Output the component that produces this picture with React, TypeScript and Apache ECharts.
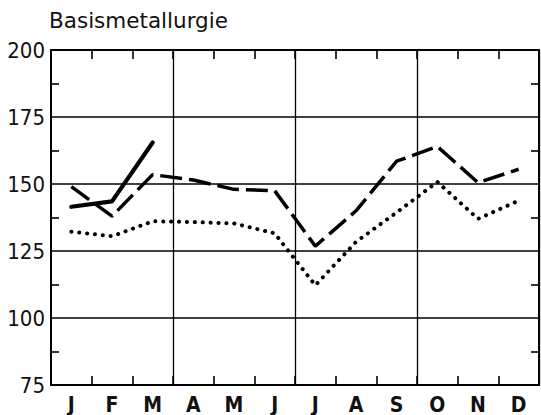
import React, { useEffect, useRef } from "react";
import * as echarts from "echarts";

const months = ["J", "F", "M", "A", "M", "J", "J", "A", "S", "O", "N", "D"];
const yTicks = [75, 100, 125, 150, 175, 200];
const solidSeries: (number | null)[] = [141.5, 143.5, 165.5, null, null, null, null, null, null, null, null, null];
const dashedSeries = [149, 138, 153.5, 151.5, 148, 147.5, 126.8, 140, 158.5, 164, 150.5, 155.5];
const dottedSeries = [132.2, 130.5, 136.1, 135.8, 135.3, 131.6, 112.2, 128.4, 139.4, 150.8, 137, 143.8];
const title = "Basismetallurgie";

export default function App() {
  const ref = useRef<HTMLDivElement>(null);
  useEffect(() => {
    if (!ref.current) return;
    const chart = echarts.init(ref.current, undefined, { renderer: "svg" });
    const axisFont = "'DejaVu Sans Condensed', 'DejaVu Sans', sans-serif";
    const yBase = {
      type: "value" as const,
      min: yTicks[0],
      max: yTicks[yTicks.length - 1],
      interval: 25,
      axisLine: { show: true, lineStyle: { color: "#000", width: 2 } },
      axisTick: { show: false, inside: true, length: 8 },
      minorTick: { show: true, splitNumber: 2, length: 8, lineStyle: { color: "#000", width: 1.6 } },
      minorSplitLine: { show: false },
    };
    chart.setOption({
      animation: false,
      backgroundColor: "#fff",
      title: {
        text: title,
        left: 49,
        top: 9,
        padding: 0,
        textStyle: { fontFamily: "'DejaVu Sans', sans-serif", fontSize: 21.5, fontWeight: "normal", color: "#111" },
      },
      grid: { left: 51, right: 2, top: 50, bottom: 29, containLabel: false },
      xAxis: [
        {
          type: "category",
          data: months,
          boundaryGap: true,
          position: "bottom",
          axisLine: { show: true, lineStyle: { color: "#000", width: 2 } },
          axisTick: { show: true, inside: true, length: 9, interval: 0, lineStyle: { color: "#000", width: 1.6 } },
          axisLabel: {
            interval: 0,
            margin: 9,
            fontFamily: axisFont,
            fontSize: 21,
            fontWeight: "bold",
            color: "#111",
          },
          splitLine: {
            show: true,
            interval: (i: number) => i > 0 && i % 3 === 0,
            lineStyle: { color: "#000", width: 1.3 },
          },
        },
        {
          type: "category",
          data: months,
          boundaryGap: true,
          position: "top",
          axisLine: { show: true, lineStyle: { color: "#000", width: 2 } },
          axisTick: { show: true, inside: true, length: 9, interval: 0, lineStyle: { color: "#000", width: 1.6 } },
          axisLabel: { show: false },
          splitLine: { show: false },
        },
      ],
      yAxis: [
        {
          ...yBase,
          position: "left",
          axisLabel: {
            margin: 6,
            fontFamily: axisFont,
            fontSize: 22,
            color: "#111",
          },
          splitLine: { show: true, lineStyle: { color: "#000", width: 1.5 } },
        },
        {
          ...yBase,
          position: "right",
          axisLabel: { show: false },
          splitLine: { show: false },
        },
      ],
      series: [
        {
          type: "line",
          data: solidSeries,
          showSymbol: false,
          connectNulls: false,
          lineStyle: { color: "#000", width: 4.2, cap: "round" },
          z: 5,
        },
        {
          type: "line",
          data: dashedSeries,
          showSymbol: false,
          lineStyle: { color: "#000", width: 3.5, type: [22, 7], cap: "butt" },
          z: 4,
        },
        {
          type: "line",
          data: dottedSeries,
          showSymbol: false,
          lineStyle: { color: "#000", width: 4, type: [0.1, 7.8], cap: "round" },
          z: 3,
        },
      ],
    });
    return () => chart.dispose();
  }, []);
  return (
    <div
      ref={ref}
      style={{ position: "fixed", left: 0, top: 0, width: 541, height: 415, background: "#fff" }}
    />
  );
}
